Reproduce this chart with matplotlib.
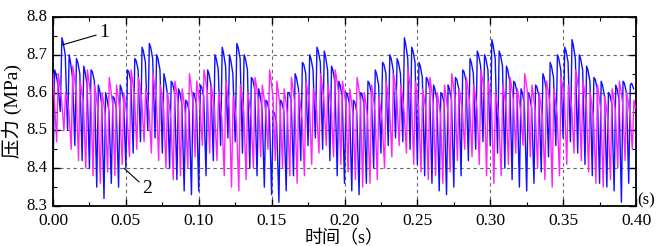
import numpy as np
import matplotlib
matplotlib.use("Agg")
import matplotlib.pyplot as plt
from matplotlib.ticker import MultipleLocator

# ---- data ----
period = 0.005
blue_hi = [8.66, 8.745, 8.70, 8.69, 8.67, 8.66, 8.62, 8.60, 8.59, 8.62,
           8.66, 8.69, 8.72, 8.73, 8.70, 8.65, 8.63, 8.61, 8.58, 8.60,
           8.62, 8.66, 8.70, 8.72, 8.70, 8.73, 8.70, 8.64, 8.61, 8.58,
           8.55, 8.58, 8.60, 8.65, 8.68, 8.70, 8.72, 8.71, 8.67, 8.63,
           8.60, 8.58, 8.60, 8.63, 8.66, 8.68, 8.70, 8.69, 8.745, 8.72,
           8.68, 8.64, 8.62, 8.60, 8.62, 8.64, 8.66, 8.69, 8.71, 8.70,
           8.74, 8.71, 8.67, 8.63, 8.61, 8.60, 8.62, 8.65, 8.68, 8.70,
           8.72, 8.74, 8.70, 8.67, 8.64, 8.63, 8.60, 8.62, 8.63, 8.62]
blue_mid = [8.62, 8.70, 8.64, 8.65, 8.62, 8.63, 8.57, 8.55, 8.56, 8.58,
            8.63, 8.66, 8.68, 8.69, 8.66, 8.60, 8.60, 8.57, 8.55, 8.57,
            8.59, 8.62, 8.66, 8.67, 8.65, 8.69, 8.66, 8.61, 8.56, 8.55,
            8.52, 8.55, 8.58, 8.61, 8.65, 8.66, 8.68, 8.66, 8.63, 8.59,
            8.57, 8.55, 8.57, 8.60, 8.62, 8.65, 8.66, 8.65, 8.69, 8.68,
            8.64, 8.61, 8.58, 8.57, 8.58, 8.61, 8.63, 8.65, 8.67, 8.66,
            8.69, 8.67, 8.63, 8.60, 8.57, 8.56, 8.59, 8.61, 8.64, 8.66,
            8.68, 8.69, 8.66, 8.63, 8.61, 8.59, 8.57, 8.58, 8.60, 8.61]
blue_lo = [8.38, 8.55, 8.50, 8.46, 8.42, 8.40, 8.35, 8.32, 8.36, 8.35,
           8.40, 8.44, 8.47, 8.50, 8.48, 8.44, 8.40, 8.37, 8.34, 8.33,
           8.34, 8.38, 8.42, 8.46, 8.48, 8.47, 8.44, 8.40, 8.38, 8.35,
           8.33, 8.31, 8.34, 8.38, 8.42, 8.46, 8.48, 8.45, 8.42, 8.38,
           8.36, 8.34, 8.33, 8.36, 8.40, 8.44, 8.46, 8.48, 8.47, 8.45,
           8.41, 8.38, 8.36, 8.34, 8.33, 8.35, 8.38, 8.42, 8.45, 8.47,
           8.46, 8.44, 8.40, 8.37, 8.35, 8.34, 8.36, 8.39, 8.43, 8.46,
           8.48, 8.47, 8.44, 8.41, 8.38, 8.36, 8.35, 8.34, 8.31, 8.36]
mag_hi = [8.65, 8.60, 8.67, 8.63, 8.66, 8.62, 8.60, 8.64, 8.62, 8.60,
          8.66, 8.64, 8.61, 8.65, 8.62, 8.60, 8.63, 8.61, 8.65, 8.63,
          8.66, 8.62, 8.60, 8.63, 8.59, 8.62, 8.60, 8.64, 8.62, 8.66,
          8.63, 8.61, 8.64, 8.60, 8.63, 8.61, 8.65, 8.62, 8.66, 8.63,
          8.61, 8.64, 8.60, 8.62, 8.59, 8.63, 8.65, 8.62, 8.66, 8.63,
          8.61, 8.64, 8.60, 8.62, 8.65, 8.61, 8.64, 8.62, 8.66, 8.63,
          8.60, 8.62, 8.64, 8.61, 8.65, 8.62, 8.60, 8.63, 8.61, 8.64,
          8.62, 8.66, 8.63, 8.60, 8.62, 8.59, 8.61, 8.63, 8.60, 8.58]
mag_mid = [8.58, 8.55, 8.60, 8.57, 8.59, 8.55, 8.54, 8.57, 8.55, 8.53,
           8.59, 8.58, 8.55, 8.58, 8.56, 8.53, 8.57, 8.54, 8.58, 8.56,
           8.60, 8.55, 8.53, 8.56, 8.52, 8.55, 8.54, 8.58, 8.55, 8.59,
           8.56, 8.54, 8.57, 8.53, 8.57, 8.55, 8.58, 8.56, 8.60, 8.57,
           8.54, 8.58, 8.53, 8.55, 8.52, 8.56, 8.59, 8.55, 8.59, 8.56,
           8.55, 8.57, 8.54, 8.55, 8.58, 8.55, 8.57, 8.56, 8.60, 8.56,
           8.53, 8.56, 8.58, 8.55, 8.59, 8.55, 8.53, 8.57, 8.54, 8.58,
           8.56, 8.60, 8.57, 8.53, 8.55, 8.52, 8.55, 8.57, 8.54, 8.52]
mag_lo = [8.47, 8.50, 8.45, 8.42, 8.40, 8.38, 8.36, 8.39, 8.38, 8.41,
          8.43, 8.45, 8.47, 8.44, 8.42, 8.40, 8.37, 8.38, 8.40, 8.43,
          8.46, 8.44, 8.42, 8.38, 8.35, 8.34, 8.37, 8.40, 8.43, 8.45,
          8.42, 8.40, 8.38, 8.36, 8.38, 8.41, 8.44, 8.46, 8.43, 8.41,
          8.39, 8.37, 8.35, 8.36, 8.37, 8.40, 8.43, 8.46, 8.44, 8.41,
          8.39, 8.37, 8.38, 8.36, 8.39, 8.42, 8.45, 8.43, 8.41, 8.38,
          8.36, 8.38, 8.41, 8.44, 8.46, 8.43, 8.40, 8.37, 8.35, 8.38,
          8.41, 8.44, 8.42, 8.39, 8.36, 8.35, 8.37, 8.40, 8.42, 8.45]

x_ticks = [0.00, 0.05, 0.10, 0.15, 0.20, 0.25, 0.30, 0.35, 0.40]
y_ticks = [8.3, 8.4, 8.5, 8.6, 8.7, 8.8]


def build_trace(hi, mid, lo, offset):
    # each cycle: trough -> fast rise to peak -> rippled plateau -> fall
    t, v = [], []
    for k, (h, m, l) in enumerate(zip(hi, mid, lo)):
        t0 = offset + k * period
        t += [t0, t0 + 0.0011, t0 + 0.0020, t0 + 0.0034]
        v += [l, h, (h + m) / 2 + 0.01, m]
    return np.array(t), np.array(v)


tb, vb = build_trace(blue_hi, blue_mid, blue_lo, 0.0)
tm, vm = build_trace(mag_hi, mag_mid, mag_lo, 0.0025)
tm = np.concatenate([[0.0], tm])
vm = np.concatenate([[mag_hi[0]], vm])
mask_m = tm <= 0.4
mask_b = tb <= 0.4

serif = ['Liberation Serif', 'DejaVu Serif']
cjk = ['Liberation Serif', 'Noto Sans CJK SC']

fig = plt.figure(figsize=(6.57, 2.46), dpi=100)
ax = fig.add_axes([53 / 657, 1 - 206 / 246, (636 - 53) / 657, (206 - 17) / 246])

ax.plot(tb[mask_b], vb[mask_b], color='#1010ff', lw=1.0, zorder=2)
ax.plot(tm[mask_m], vm[mask_m], color='#ff22ff', lw=1.0, zorder=3)

ax.set_xlim(0, 0.4)
ax.set_ylim(8.3, 8.8)
ax.set_xticks(x_ticks)
ax.set_xticklabels([f"{v:.2f}" for v in x_ticks], family=serif, fontsize=12.5)
ax.set_yticks(y_ticks)
ax.set_yticklabels([f"{v:.1f}" for v in y_ticks], family=serif, fontsize=12,
                   va='center')
ax.xaxis.set_minor_locator(MultipleLocator(0.025))
ax.yaxis.set_minor_locator(MultipleLocator(0.05))
ax.tick_params(which='both', direction='in', top=True, right=True, color='black')
ax.tick_params(which='major', length=5, width=1)
ax.tick_params(axis='x', which='major', pad=5)
ax.tick_params(axis='y', which='major', pad=4)
ax.tick_params(which='minor', length=3, width=0.8)
for s in ax.spines.values():
    s.set_linewidth(1.3)

ax.grid(True, which='major', linestyle=(0, (3, 3)), color='#666666', linewidth=0.8)
ax.set_axisbelow(True)

ax.set_ylabel('压力 (MPa)', family=cjk, fontsize=14, labelpad=3)
ax.set_xlabel('时间（s）', family=cjk, fontsize=13, labelpad=0.5)
ax.text(1.003, -0.015, '(s)', transform=ax.transAxes, family=serif, fontsize=12,
        ha='left', va='bottom')

ax.annotate('1', xy=(0.0062, 8.726), xytext=(0.0315, 8.758), family=serif, fontsize=14,
            ha='left', va='center',
            arrowprops=dict(arrowstyle='-', color='black', lw=0.8, shrinkA=0, shrinkB=0))
ax.annotate('2', xy=(0.0487, 8.40), xytext=(0.061, 8.345), family=serif, fontsize=14,
            ha='left', va='center',
            arrowprops=dict(arrowstyle='-', color='black', lw=0.8, shrinkA=0, shrinkB=0))

fig.savefig('out.png', dpi=100)
